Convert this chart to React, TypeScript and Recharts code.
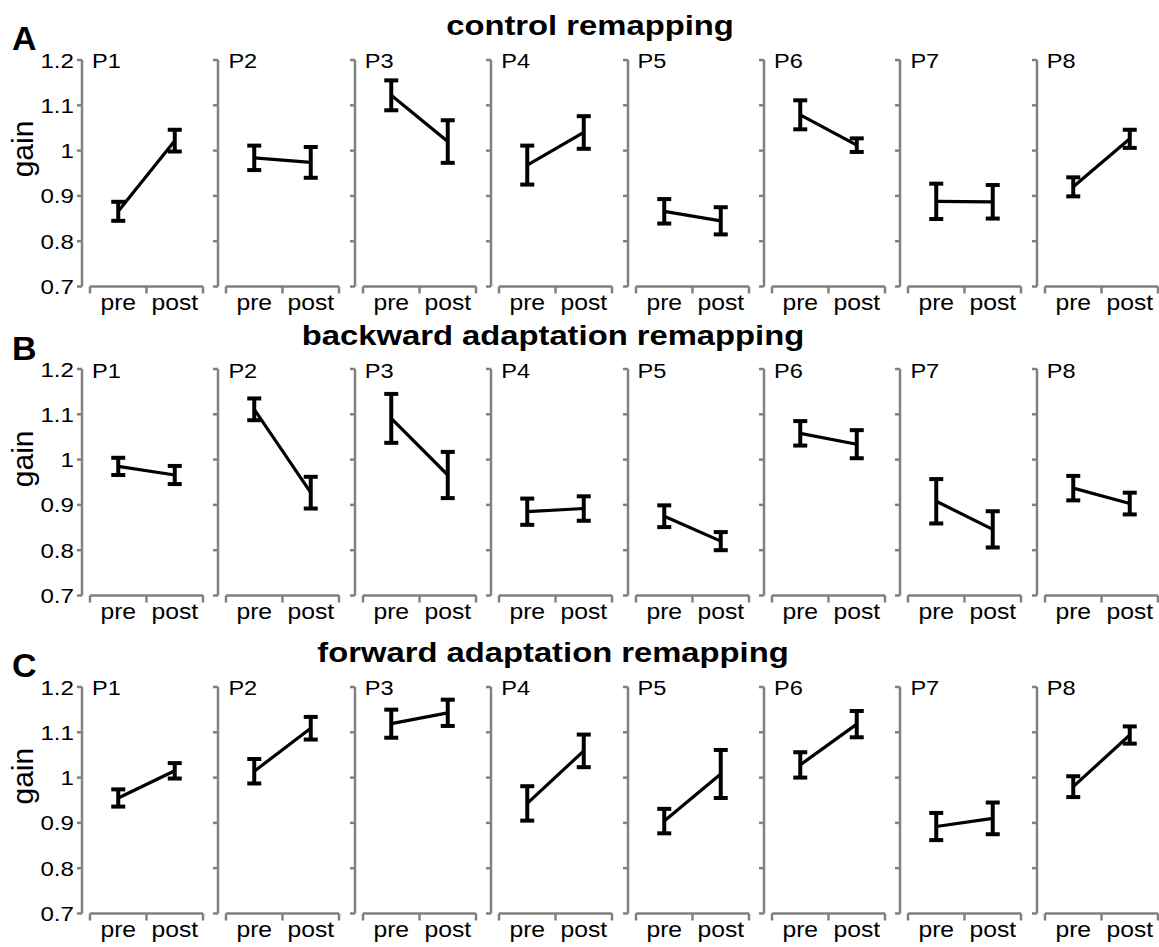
import { LineChart, Line, XAxis, YAxis, ErrorBar, ReferenceLine } from 'recharts';

const PARTICIPANTS = ['P1', 'P2', 'P3', 'P4', 'P5', 'P6', 'P7', 'P8'];
const PHASES = ['pre', 'post'];
const Y_TICKS = [0.7, 0.8, 0.9, 1, 1.1, 1.2];

// A: control remapping
const CONTROL_PRE = [0.866, 0.984, 1.122, 0.968, 0.866, 1.079, 0.888, 0.92];
const CONTROL_PRE_ERR = [0.021, 0.027, 0.033, 0.043, 0.027, 0.032, 0.039, 0.021];
const CONTROL_POST = [1.022, 0.974, 1.02, 1.04, 0.845, 1.012, 0.887, 1.026];
const CONTROL_POST_ERR = [0.024, 0.034, 0.047, 0.036, 0.03, 0.015, 0.037, 0.02];

// B: backward adaptation remapping
const BACKWARD_PRE = [0.985, 1.111, 1.091, 0.885, 0.875, 1.058, 0.908, 0.937];
const BACKWARD_PRE_ERR = [0.019, 0.024, 0.054, 0.029, 0.024, 0.027, 0.049, 0.027];
const BACKWARD_POST = [0.966, 0.927, 0.966, 0.892, 0.82, 1.034, 0.846, 0.903];
const BACKWARD_POST_ERR = [0.02, 0.035, 0.051, 0.027, 0.02, 0.031, 0.04, 0.024];

// C: forward adaptation remapping
const FORWARD_PRE = [0.955, 1.014, 1.119, 0.943, 0.904, 1.028, 0.892, 0.98];
const FORWARD_PRE_ERR = [0.019, 0.027, 0.031, 0.038, 0.027, 0.028, 0.03, 0.023];
const FORWARD_POST = [1.015, 1.109, 1.143, 1.059, 1.008, 1.118, 0.91, 1.094];
const FORWARD_POST_ERR = [0.017, 0.025, 0.029, 0.036, 0.053, 0.029, 0.035, 0.019];

const ROWS = [
  { title: 'control remapping', letter: 'A', top: 59.5, titleX: 590, pre: CONTROL_PRE, preErr: CONTROL_PRE_ERR, post: CONTROL_POST, postErr: CONTROL_POST_ERR },
  { title: 'backward adaptation remapping', letter: 'B', top: 369.3, titleX: 553, pre: BACKWARD_PRE, preErr: BACKWARD_PRE_ERR, post: BACKWARD_POST, postErr: BACKWARD_POST_ERR },
  { title: 'forward adaptation remapping', letter: 'C', top: 686.7, titleX: 553, pre: FORWARD_PRE, preErr: FORWARD_PRE_ERR, post: FORWARD_POST, postErr: FORWARD_POST_ERR },
];

// layout
const FONT = '"Liberation Sans", Arial, sans-serif';
const GRAY = '#808080';
const SX = 1.15; // the figure's text is slightly stretched horizontally
const AX0 = 82;
const PITCH = 136.4;
const YW = 50;
const PLOT_W = 121;
const PAD_L = 8;
const TOP_M = 10;
const PLOT_H = 226.5;
const XAXIS_H = 36;

function XTick(props: any) {
  const { x, y, payload } = props;
  const v = payload.value;
  if (Number.isInteger(v)) {
    return (
      <text transform={`translate(${x},${y + 23}) scale(${SX},1)`} textAnchor="middle" fontSize={21.5} fontFamily={FONT} fill="#000">
        {PHASES[v - 1]}
      </text>
    );
  }
  return <line x1={x} y1={y} x2={x} y2={y + 7} stroke={GRAY} strokeWidth={2.5} />;
}

function Panel({ row, i }: { row: (typeof ROWS)[number]; i: number }) {
  const data = [
    { x: 1, gain: row.pre[i], err: row.preErr[i] },
    { x: 2, gain: row.post[i], err: row.postErr[i] },
  ];
  const ax = AX0 + i * PITCH;
  return (
    <div style={{ position: 'absolute', left: ax - YW, top: row.top - TOP_M }}>
      <LineChart width={YW + PLOT_W + 4} height={TOP_M + PLOT_H + XAXIS_H} data={data} margin={{ top: TOP_M, right: 4, bottom: 0, left: 0 }}>
        <XAxis
          type="number"
          dataKey="x"
          domain={[0.5, 2.5]}
          ticks={[0.5, 1, 1.5, 2, 2.5]}
          interval={0}
          padding={{ left: PAD_L, right: 0 }}
          axisLine={false}
          tickLine={false}
          tickSize={0}
          tickMargin={0}
          height={XAXIS_H}
          tick={(p: any) => <XTick {...p} />}
        />
        <YAxis
          type="number"
          domain={[0.7, 1.2]}
          ticks={Y_TICKS}
          interval={0}
          width={YW}
          tickSize={5}
          tickMargin={3}
          axisLine={{ stroke: GRAY, strokeWidth: 2.5 }}
          tickLine={{ stroke: GRAY, strokeWidth: 2.5 }}
          tick={(p: any) =>
            i === 0 ? (
              <text transform={`translate(${p.x},${p.y}) scale(${SX},1)`} textAnchor="end" dy="0.36em" fontSize={21} fontFamily={FONT} fill="#000">
                {String(p.payload.value)}
              </text>
            ) : (
              <g />
            )
          }
        />
        <ReferenceLine
          segment={[
            { x: 0.5, y: 0.7 },
            { x: 2.5, y: 0.7 },
          ]}
          stroke={GRAY}
          strokeWidth={2.5}
          ifOverflow="visible"
        />
        <Line dataKey="gain" stroke="#000" strokeWidth={3.2} dot={false} isAnimationActive={false}>
          <ErrorBar dataKey="err" direction="y" width={7} stroke="#000" strokeWidth={4} isAnimationActive={false} />
        </Line>
      </LineChart>
    </div>
  );
}

export default function App() {
  return (
    <div style={{ position: 'absolute', left: 0, top: 0, width: 1159, height: 947, background: '#fff', fontFamily: FONT }}>
      {ROWS.map((row) => PARTICIPANTS.map((_, i) => <Panel key={row.letter + i} row={row} i={i} />))}
      <svg width={1159} height={947} style={{ position: 'absolute', left: 0, top: 0, pointerEvents: 'none' }}>
        {ROWS.map((row) => (
          <g key={row.letter} fontFamily={FONT} fill="#000">
            <text x={12} y={row.top - 9.5} fontSize={34} fontWeight="bold">
              {row.letter}
            </text>
            <text transform={`translate(${row.titleX},${row.top - 24.5}) scale(${SX},1)`} textAnchor="middle" fontSize={28.5} fontWeight="bold">
              {row.title}
            </text>
            <text transform={`translate(33,${row.top + 89.5}) rotate(-90)`} textAnchor="middle" fontSize={30}>
              gain
            </text>
            {PARTICIPANTS.map((p, i) => (
              <text key={p} transform={`translate(${AX0 + i * PITCH + 10},${row.top + 8.5}) scale(${SX},1)`} fontSize={20.5}>
                {p}
              </text>
            ))}
          </g>
        ))}
      </svg>
    </div>
  );
}
